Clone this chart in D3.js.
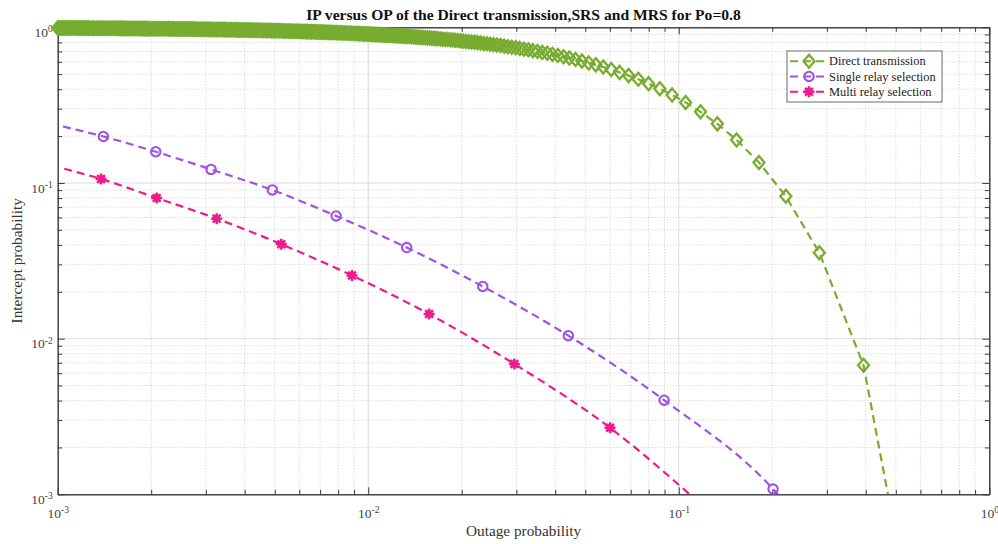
<!DOCTYPE html>
<html>
<head>
<meta charset="utf-8">
<script src="https://cdn.jsdelivr.net/npm/d3@7"></script>
<style>
  body { margin: 0; background: #fff; }
  svg { font-family: "Liberation Serif", "Times New Roman", serif; }
</style>
</head>
<body>
<div id="chart"></div>
<script>
// ---- data ----
const chartTitle = "IP versus OP of the Direct transmission,SRS and MRS for Po=0.8";
const seriesNames = ["Direct transmission", "Single relay selection", "Multi relay selection"];
const decadeLabels = ["-3", "-2", "-1", "0"];

// Direct transmission (diamonds, the left part is a solid band of markers)
const directOP = [
  0.6321, 0.3935, 0.2835, 0.2212, 0.1813, 0.1535, 0.1331, 0.1175, 0.1052, 0.09516,
  0.08690, 0.07996, 0.07404, 0.06894, 0.06449, 0.06059, 0.05713, 0.05404, 0.05127, 0.04877,
  0.04650, 0.04444, 0.04255, 0.04081, 0.03921, 0.03773, 0.03636, 0.03508, 0.03390, 0.03278,
  0.03174, 0.03077, 0.02985, 0.02898, 0.02817, 0.02740, 0.02667, 0.02597, 0.02532, 0.02469,
  0.02410, 0.02353, 0.02299, 0.02247, 0.02198, 0.02150, 0.02105, 0.02062, 0.02020, 0.01980,
  0.01942, 0.01905, 0.01869, 0.01835,
  0.01770, 0.01709, 0.01653, 0.01600, 0.01550, 0.01504, 0.01460, 0.01419, 0.01379, 0.01342,
  0.01307, 0.01274, 0.01242, 0.01212, 0.01183, 0.01156, 0.01130, 0.01105, 0.01081, 0.01058,
  0.01036, 0.01015, 0.00995, 0.009756, 0.009569, 0.009390, 0.009216,
  0.008968, 0.008733, 0.008510, 0.008299, 0.008097, 0.007905, 0.007722, 0.007547, 0.007380,
  0.007220, 0.007067, 0.006920, 0.006780, 0.006644, 0.006515, 0.006390, 0.006270, 0.006154,
  0.006006, 0.005865, 0.005731, 0.005602, 0.005479, 0.005362, 0.005249, 0.005141, 0.005038,
  0.004938, 0.004843, 0.004751, 0.004662,
  0.004556, 0.004454, 0.004357, 0.004264, 0.004175, 0.004090, 0.004008, 0.003929, 0.003854,
  0.003781, 0.003711,
  0.003630, 0.003552, 0.003478, 0.003407, 0.003339, 0.003273, 0.003210, 0.003150, 0.003091,
  0.003017, 0.002946, 0.002878, 0.002813, 0.002751, 0.002692, 0.002635, 0.002581, 0.002528,
  0.002478, 0.002430, 0.002384, 0.002339, 0.002296,
  0.002245, 0.002195, 0.002148, 0.002103, 0.002060, 0.002018, 0.001978, 0.001940, 0.001903,
  0.001867, 0.001833,
  0.001794, 0.001756, 0.001720, 0.001685, 0.001652, 0.001619, 0.001589, 0.001559, 0.001530,
  0.001496, 0.001463, 0.001432, 0.001402, 0.001373, 0.001345, 0.001318, 0.001293, 0.001268, 0.001245,
  0.001217, 0.001191, 0.001166, 0.001142, 0.001119, 0.001097, 0.001076, 0.001055, 0.001036, 0.001017, 0.0009995
];
const directIP = [
  0.0000454, 0.006738, 0.03567, 0.08208, 0.1353, 0.1889, 0.2397, 0.2865, 0.3292, 0.3679,
  0.4029, 0.4346, 0.4633, 0.4895, 0.5134, 0.5353, 0.5553, 0.5738, 0.5908, 0.6065,
  0.621, 0.635, 0.647, 0.659, 0.670, 0.681, 0.690, 0.700, 0.708, 0.717,
  0.724, 0.732, 0.739, 0.745, 0.751, 0.757, 0.763, 0.769, 0.774, 0.779,
  0.784, 0.788, 0.793, 0.797, 0.801, 0.805, 0.808, 0.812, 0.815, 0.819,
  0.822, 0.825, 0.828, 0.831,
  0.836, 0.842, 0.846, 0.851, 0.855, 0.859, 0.863, 0.867, 0.870, 0.874,
  0.877, 0.880, 0.882, 0.885, 0.888, 0.890, 0.893, 0.895, 0.897, 0.899,
  0.901, 0.903, 0.905, 0.907, 0.908, 0.910, 0.912,
  0.914, 0.916, 0.918, 0.920, 0.922, 0.924, 0.925, 0.927, 0.929,
  0.930, 0.932, 0.933, 0.934, 0.936, 0.937, 0.938, 0.939, 0.940,
  0.942, 0.943, 0.944, 0.945, 0.947, 0.948, 0.949, 0.950, 0.951,
  0.952, 0.953, 0.954, 0.954,
  0.955, 0.956, 0.957, 0.958, 0.959, 0.960, 0.961, 0.961, 0.962,
  0.963, 0.964,
  0.964, 0.965, 0.966, 0.966, 0.967, 0.968, 0.968, 0.969, 0.970,
  0.970, 0.971, 0.972, 0.972, 0.973, 0.973, 0.974, 0.974, 0.975,
  0.975, 0.976, 0.976, 0.977, 0.977,
  0.978, 0.978, 0.979, 0.979, 0.980, 0.980, 0.980, 0.981, 0.981,
  0.981, 0.982,
  0.982, 0.983, 0.983, 0.983, 0.984, 0.984, 0.984, 0.985, 0.985,
  0.985, 0.985, 0.986, 0.986, 0.986, 0.987, 0.987, 0.987, 0.987, 0.988,
  0.988, 0.988, 0.988, 0.989, 0.989, 0.989, 0.989, 0.989, 0.990, 0.990, 0.990
];
// more diamonds packed into the solid band at the top left
const directBandOP = [
  0.01802, 0.01739, 0.01681, 0.01626, 0.01575, 0.01527, 0.01481, 0.01439, 0.01399, 0.01360,
  0.01324, 0.01290, 0.01258, 0.01227, 0.01198, 0.01170, 0.01143, 0.01117, 0.01093, 0.01069,
  0.01047, 0.01026, 0.01005, 0.009852, 0.009662, 0.009478, 0.009302,
  0.009091, 0.008849, 0.008621, 0.008403, 0.008197, 0.008000, 0.007812, 0.007633, 0.007463,
  0.007299, 0.007143, 0.006993, 0.006849, 0.006711, 0.006579, 0.006452, 0.006329, 0.006211,
  0.006079, 0.005935, 0.005797, 0.005666, 0.005540, 0.005420, 0.005305, 0.005195, 0.005089,
  0.004988, 0.004890, 0.004796, 0.004706,
  0.004608, 0.004505, 0.004405, 0.004310, 0.004219, 0.004132, 0.004049, 0.003968, 0.003891,
  0.003817, 0.003745,
  0.003670, 0.003591, 0.003515, 0.003442, 0.003373, 0.003306, 0.003242, 0.003180, 0.003120,
  0.003053, 0.002981, 0.002911, 0.002845, 0.002782, 0.002721, 0.002663, 0.002608, 0.002554,
  0.002503, 0.002454, 0.002407, 0.002361, 0.002318,
  0.002270, 0.002220, 0.002172, 0.002125, 0.002081, 0.002039, 0.001998, 0.001959, 0.001921,
  0.001885, 0.001850,
  0.001813, 0.001775, 0.001738, 0.001702, 0.001668, 0.001635, 0.001604, 0.001574, 0.001544,
  0.001513, 0.001479, 0.001447, 0.001417, 0.001387, 0.001359, 0.001332, 0.001306, 0.001281, 0.001256,
  0.001231, 0.001204, 0.001179, 0.001154, 0.001131, 0.001108, 0.001086, 0.001066, 0.001046, 0.001026, 0.001008
];
const directBandIP = [
  0.834, 0.839, 0.844, 0.849, 0.853, 0.857, 0.861, 0.865, 0.869, 0.872,
  0.875, 0.878, 0.881, 0.884, 0.886, 0.889, 0.891, 0.894, 0.896, 0.898,
  0.900, 0.902, 0.904, 0.906, 0.907, 0.909, 0.911,
  0.913, 0.915, 0.917, 0.919, 0.921, 0.923, 0.925, 0.926, 0.928,
  0.929, 0.931, 0.932, 0.934, 0.935, 0.936, 0.937, 0.938, 0.940,
  0.941, 0.942, 0.944, 0.945, 0.946, 0.947, 0.948, 0.949, 0.950,
  0.951, 0.952, 0.953, 0.954,
  0.955, 0.956, 0.957, 0.958, 0.959, 0.959, 0.960, 0.961, 0.962,
  0.962, 0.963,
  0.964, 0.965, 0.965, 0.966, 0.967, 0.967, 0.968, 0.969, 0.969,
  0.970, 0.971, 0.971, 0.972, 0.973, 0.973, 0.974, 0.974, 0.975,
  0.975, 0.976, 0.976, 0.977, 0.977,
  0.978, 0.978, 0.978, 0.979, 0.979, 0.980, 0.980, 0.981, 0.981,
  0.981, 0.982,
  0.982, 0.982, 0.983, 0.983, 0.983, 0.984, 0.984, 0.984, 0.985,
  0.985, 0.985, 0.986, 0.986, 0.986, 0.986, 0.987, 0.987, 0.987, 0.988,
  0.988, 0.988, 0.988, 0.989, 0.989, 0.989, 0.989, 0.989, 0.990, 0.990, 0.990
];

// Single relay selection (circles), dashed line runs a bit past the markers
const srsOP = [0.001403, 0.002069, 0.003118, 0.004910, 0.00788, 0.01330, 0.02338, 0.04410, 0.0897, 0.2012];
const srsIP = [0.1989, 0.1587, 0.1222, 0.0902, 0.0614, 0.03847, 0.02164, 0.01045, 0.004023, 0.001081];
const srsLineStart = [0.00104, 0.2306];
const srsLineEnd = [0.2150, 0.000933];

// Multi relay selection (stars)
const mrsOP = [0.001379, 0.002084, 0.003251, 0.005249, 0.008868, 0.01570, 0.02955, 0.06008];
const mrsIP = [0.1061, 0.0801, 0.0590, 0.04041, 0.02545, 0.01438, 0.006875, 0.002673];
const mrsLineStart = [0.00105, 0.1234];
const mrsLineEnd = [0.1128, 0.000933];

// ---- layout ----
const W = 998, H = 544;
const colors = ["#77AC30", "#A052E2", "#EE1A8E"];
const font = '"Liberation Serif", "Times New Roman", serif';

const svg = d3.select("#chart").append("svg")
    .attr("width", W)
    .attr("height", H);

const x = d3.scaleLog().domain([1e-3, 1]).range([57.7, 989.3]);
const y = d3.scaleLog().domain([1e-3, 1]).range([494.3, 27.3]);
const [x0, x1] = x.range();
const [y0, y1] = y.range();

const isDecade = v => Math.abs(Math.log10(v) - Math.round(Math.log10(v))) < 1e-9;
const xMajor = x.ticks().filter(isDecade), xMinor = x.ticks().filter(v => !isDecade(v));
const yMajor = y.ticks().filter(isDecade), yMinor = y.ticks().filter(v => !isDecade(v));

// grid
const grid = svg.append("g");
grid.selectAll(".gxm").data(xMinor).join("line")
    .attr("x1", d => x(d)).attr("x2", d => x(d)).attr("y1", y1).attr("y2", y0)
    .attr("stroke", "#cdcdcd").attr("stroke-dasharray", "1,2");
grid.selectAll(".gym").data(yMinor).join("line")
    .attr("y1", d => y(d)).attr("y2", d => y(d)).attr("x1", x0).attr("x2", x1)
    .attr("stroke", "#cdcdcd").attr("stroke-dasharray", "1,2");
grid.selectAll(".gxM").data(xMajor.slice(1, -1)).join("line")
    .attr("x1", d => x(d)).attr("x2", d => x(d)).attr("y1", y1).attr("y2", y0)
    .attr("stroke", "#dcdcdc");
grid.selectAll(".gyM").data(yMajor.slice(1, -1)).join("line")
    .attr("y1", d => y(d)).attr("y2", d => y(d)).attr("x1", x0).attr("x2", x1)
    .attr("stroke", "#dcdcdc");

// axes, ticks pointing inward on all four sides
function styleAxis(g) {
    g.attr("color", "#3a3a3a").attr("font-family", font).attr("font-size", 13.5);
    g.selectAll("text").attr("fill", "#444");
}
function powLabel(text, exp) {
    text.text(null);
    text.append("tspan").text("10");
    text.append("tspan").attr("font-size", 9.5).attr("dy", "-0.5em").text(exp);
}

const axes = svg.append("g");
axes.append("g").attr("transform", `translate(0,${y0})`)
    .call(d3.axisBottom(x).tickValues(xMinor).tickSize(-4.5).tickSizeOuter(0).tickFormat(""))
    .call(styleAxis);
axes.append("g").attr("transform", `translate(0,${y0})`)
    .call(d3.axisBottom(x).tickValues(xMajor).tickSize(-7).tickSizeOuter(0).tickPadding(14).tickFormat(""))
    .call(styleAxis)
    .selectAll(".tick text")
    .attr("dy", "0.72em")
    .each(function (d, i) { powLabel(d3.select(this), decadeLabels[i]); });

axes.append("g").attr("transform", `translate(0,${y1})`)
    .call(d3.axisTop(x).tickValues(xMinor).tickSize(-4.5).tickSizeOuter(0).tickFormat(""))
    .call(styleAxis);
axes.append("g").attr("transform", `translate(0,${y1})`)
    .call(d3.axisTop(x).tickValues(xMajor).tickSize(-7).tickSizeOuter(0).tickFormat(""))
    .call(styleAxis);

axes.append("g").attr("transform", `translate(${x0},0)`)
    .call(d3.axisLeft(y).tickValues(yMinor).tickSize(-4.5).tickSizeOuter(0).tickFormat(""))
    .call(styleAxis);
axes.append("g").attr("transform", `translate(${x0},0)`)
    .call(d3.axisLeft(y).tickValues(yMajor).tickSize(-7).tickSizeOuter(0).tickPadding(5).tickFormat(""))
    .call(styleAxis)
    .selectAll(".tick text")
    .attr("dy", "0.68em")
    .each(function (d, i) { powLabel(d3.select(this), decadeLabels[i]); });

axes.append("g").attr("transform", `translate(${x1},0)`)
    .call(d3.axisRight(y).tickValues(yMinor).tickSize(-4.5).tickSizeOuter(0).tickFormat(""))
    .call(styleAxis);
axes.append("g").attr("transform", `translate(${x1},0)`)
    .call(d3.axisRight(y).tickValues(yMajor).tickSize(-7).tickSizeOuter(0).tickFormat(""))
    .call(styleAxis);

// markers
const diamond = "M0,-6.5L5.5,0L0,6.5L-5.5,0Z";
const star = "M0,-5.5V5.5M-5.5,0H5.5M-3.9,-3.9L3.9,3.9M-3.9,3.9L3.9,-3.9";
function drawMarker(g, kind, color) {
    if (kind === 0) {
        g.append("path").attr("d", diamond).attr("fill", "none")
            .attr("stroke", color).attr("stroke-width", 2.3);
    } else if (kind === 1) {
        g.append("circle").attr("r", 4.7).attr("fill", "none")
            .attr("stroke", color).attr("stroke-width", 2.1);
    } else {
        g.append("circle").attr("r", 3.6).attr("fill", color);
        g.append("path").attr("d", star).attr("fill", "none")
            .attr("stroke", color).attr("stroke-width", 2.5);
    }
}

svg.append("clipPath").attr("id", "plot-clip")
    .append("rect").attr("x", x0).attr("y", y1).attr("width", x1 - x0).attr("height", y0 - y1);

const directPts = d3.zip(directOP, directIP);
const series = [
    { pts: directPts.concat(d3.zip(directBandOP, directBandIP)), line: directPts, curve: d3.curveLinear },
    { pts: d3.zip(srsOP, srsIP), line: [srsLineStart, ...d3.zip(srsOP, srsIP), srsLineEnd], curve: d3.curveMonotoneX },
    { pts: d3.zip(mrsOP, mrsIP), line: [mrsLineStart, ...d3.zip(mrsOP, mrsIP), mrsLineEnd], curve: d3.curveMonotoneX }
];

const plot = svg.append("g");
series.forEach((s, k) => {
    const line = d3.line().x(d => x(d[0])).y(d => y(d[1])).curve(s.curve);
    const pts = s.line.slice().sort((a, b) => a[0] - b[0]);
    plot.append("path")
        .attr("clip-path", "url(#plot-clip)")
        .attr("d", line(pts))
        .attr("fill", "none")
        .attr("stroke", colors[k])
        .attr("stroke-width", 2.2)
        .attr("stroke-dasharray", "8,5");
    plot.append("g").selectAll("g")
        .data(s.pts.filter(d => d[1] >= y.domain()[0] * 0.97))
        .join("g")
        .attr("transform", d => `translate(${x(d[0])},${y(d[1])})`)
        .each(function () { drawMarker(d3.select(this), k, colors[k]); });
});

// titles
svg.append("text")
    .attr("x", (x0 + x1) / 2).attr("y", 20)
    .attr("text-anchor", "middle")
    .attr("font-size", 15.6).attr("font-weight", "bold").attr("fill", "#111")
    .text(chartTitle);
svg.append("text")
    .attr("x", (x0 + x1) / 2).attr("y", 536)
    .attr("text-anchor", "middle")
    .attr("font-size", 15.3).attr("fill", "#333")
    .text("Outage probability");
svg.append("text")
    .attr("transform", `translate(22,${(y0 + y1) / 2}) rotate(-90)`)
    .attr("text-anchor", "middle")
    .attr("font-size", 15.3).attr("fill", "#333")
    .text("Intercept probability");

// legend
const legend = svg.append("g").attr("transform", "translate(787,51)");
legend.append("rect")
    .attr("width", 155).attr("height", 51)
    .attr("fill", "#fff").attr("stroke", "#6a6a6a").attr("stroke-width", 1);
seriesNames.forEach((name, k) => {
    const row = legend.append("g").attr("transform", `translate(0,${10.3 + k * 15.2})`);
    row.append("line")
        .attr("x1", 3).attr("x2", 40).attr("y1", 0).attr("y2", 0)
        .attr("stroke", colors[k]).attr("stroke-width", 2)
        .attr("stroke-dasharray", "8,5");
    drawMarker(row.append("g").attr("transform", "translate(22,0)"), k, colors[k]);
    row.append("text")
        .attr("x", 42).attr("y", 4)
        .attr("font-size", 12.4).attr("fill", "#222")
        .text(name);
});
</script>
</body>
</html>
